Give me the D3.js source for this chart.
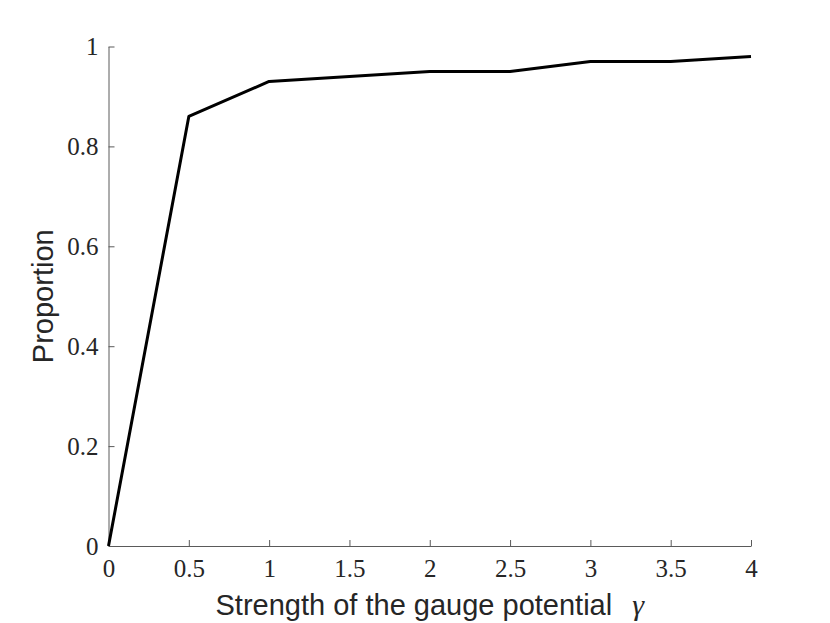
<!DOCTYPE html>
<html>
<head>
<meta charset="utf-8">
<script src="https://cdn.jsdelivr.net/npm/d3@7"></script>
<style>
  body { margin: 0; background: #fff; }
  svg { display: block; }
</style>
</head>
<body>
<div id="chart"></div>
<script>
// gauge strength vs proportion
const gammaVals = [0, 0.5, 1, 1.5, 2, 2.5, 3, 3.5, 4];
const proportion = [0, 0.86, 0.93, 0.94, 0.95, 0.95, 0.97, 0.97, 0.98];
const xTicks = [0, 0.5, 1, 1.5, 2, 2.5, 3, 3.5, 4];
const yTicks = [0, 0.2, 0.4, 0.6, 0.8, 1];

const W = 830, H = 623;
const margin = {left: 108.5, right: 79, top: 46.5, bottom: 77};

const svg = d3.select("#chart").append("svg")
    .attr("width", W)
    .attr("height", H);

const x = d3.scaleLinear().domain([0, 4]).range([margin.left, W - margin.right]);
const y = d3.scaleLinear().domain([0, 1]).range([H - margin.bottom, margin.top]);

const axisCol = "#5a5a5a";
const tickFont = "'Liberation Serif', 'DejaVu Serif', serif";

// x axis, ticks inward
const gx = svg.append("g")
    .attr("transform", `translate(0,${y(0)})`)
    .call(d3.axisBottom(x).tickValues(xTicks).tickSizeInner(-6).tickSizeOuter(0)
      .tickPadding(13).tickFormat(d3.format("")));
gx.select(".domain").attr("stroke", axisCol).attr("stroke-width", 1);
gx.selectAll(".tick line").attr("stroke", axisCol);
gx.selectAll(".tick text")
    .attr("fill", "#262626")
    .style("font-family", tickFont)
    .style("font-size", "25px");

// y axis
const gy = svg.append("g")
    .attr("transform", `translate(${x(0)},0)`)
    .call(d3.axisLeft(y).tickValues(yTicks).tickSizeInner(-6).tickSizeOuter(0)
      .tickPadding(10).tickFormat(d3.format("")));
gy.select(".domain").attr("stroke", axisCol).attr("stroke-width", 1);
gy.selectAll(".tick line").attr("stroke", axisCol);
gy.selectAll(".tick text")
    .attr("fill", "#262626")
    .style("font-family", tickFont)
    .style("font-size", "25px");

// line
const line = d3.line()
    .x((d, i) => x(gammaVals[i]))
    .y(d => y(d));

svg.append("path")
    .datum(proportion)
    .attr("fill", "none")
    .attr("stroke", "#000")
    .attr("stroke-width", 3)
    .attr("stroke-linejoin", "round")
    .attr("d", line);

// axis labels
const xl = svg.append("text")
    .attr("x", (x(0) + x(4)) / 2)
    .attr("y", 615)
    .attr("text-anchor", "middle")
    .attr("fill", "#262626")
    .style("font-family", "'Liberation Sans', Arial, sans-serif")
    .style("font-size", "29px");
xl.append("tspan").text("Strength of the gauge potential");
xl.append("tspan")
    .attr("dx", 20)
    .style("font-family", tickFont)
    .style("font-style", "italic")
    .style("font-size", "30px")
    .text("γ");

svg.append("text")
    .attr("transform", `translate(53,${(y(0) + y(1)) / 2}) rotate(-90)`)
    .attr("text-anchor", "middle")
    .attr("fill", "#262626")
    .style("font-family", "'Liberation Sans', Arial, sans-serif")
    .style("font-size", "29px")
    .text("Proportion");
</script>
</body>
</html>
